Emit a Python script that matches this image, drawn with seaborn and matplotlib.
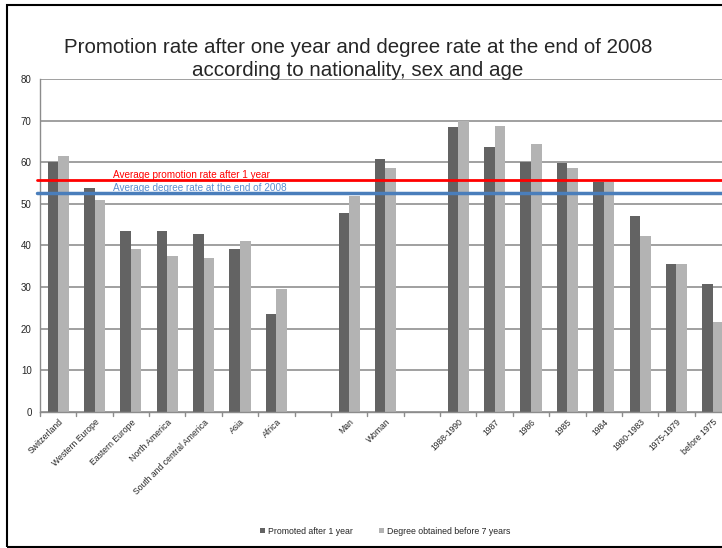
import pandas as pd
import matplotlib
matplotlib.use('Agg')
import matplotlib.pyplot as plt
import seaborn as sns
from matplotlib.patches import Rectangle

# ---------- data ----------
groups = ['Switzerland', 'Western Europe', 'Eastern Europe', 'North America',
          'South and central America', 'Asia', 'Africa', ' ',
          'Man', 'Woman', '  ',
          '1988-1990', '1987', '1986', '1985', '1984',
          '1980-1983', '1975-1979', 'before 1975']
filled = [g for g in groups if g.strip()]
promoted = [60.0, 53.8, 43.4, 43.4, 42.7, 39.1, 23.6,
            47.8, 60.9,
            68.4, 63.7, 60.1, 59.7, 55.3, 47.0, 35.5, 30.8]
degree = [61.6, 51.0, 39.1, 37.5, 37.1, 41.0, 29.6,
          51.8, 58.6,
          70.0, 68.8, 64.5, 58.6, 55.3, 42.3, 35.5, 21.6]
series_names = ['Promoted after 1 year', 'Degree obtained before 7 years']
avg_promotion = 55.8
avg_degree = 52.7

df = pd.DataFrame({
    'group': filled * 2,
    'rate': promoted + degree,
    'series': [series_names[0]] * len(filled) + [series_names[1]] * len(filled),
})

sns.set_style('white')
plt.rcParams['font.family'] = ['Liberation Sans', 'DejaVu Sans']

fig = plt.figure(figsize=(7.22, 5.48), dpi=100)
ax = fig.add_axes([40 / 722, 1 - 412 / 548, 691 / 722, 333 / 548])

sns.barplot(data=df, x='group', y='rate', hue='series', order=groups,
            hue_order=series_names, palette=['#636363', '#b3b3b3'],
            width=0.58, gap=0, saturation=1, linewidth=0, ax=ax)

# average lines
ax.axhline(avg_promotion, xmin=-0.005, xmax=1, color='#ff0000', lw=2, clip_on=False, zorder=5)
ax.axhline(avg_degree, xmin=-0.005, xmax=1, color='#4a7ebb', lw=2.5, clip_on=False, zorder=5)
ax.text(0.106, avg_promotion, 'Average promotion rate after 1 year', color='#ff0000',
        fontsize=7.2, va='bottom', transform=ax.get_yaxis_transform())
ax.text(0.106, avg_degree, 'Average degree rate at the end of 2008', color='#5b8fd0',
        fontsize=7.2, va='bottom', transform=ax.get_yaxis_transform())

ax.set_ylim(0, 80)
ax.set_xlim(-0.5, len(groups) - 0.5)
ax.set_yticks(range(0, 81, 10))
ax.yaxis.grid(True, color='#999999', lw=1.3)
ax.set_axisbelow(True)
ax.set_xticks(range(len(groups)))
ax.set_xticklabels(groups, rotation=45, ha='right', rotation_mode='anchor', fontsize=6.2)
ax.tick_params(axis='x', length=0, pad=4)
ax.tick_params(axis='y', labelsize=7, length=4, color='#8c8c8c', pad=2)
ax.set_xlabel('')
ax.set_ylabel('')
for s in ['top', 'right']:
    ax.spines[s].set_visible(False)
for s in ['left', 'bottom']:
    ax.spines[s].set_color('#8c8c8c')
    ax.spines[s].set_linewidth(1)
# category boundary ticks below the axis
for i in range(len(groups) + 1):
    ax.plot([i - 0.5, i - 0.5], [0, -0.9], color='#8c8c8c', lw=1, clip_on=False)

# legend at the bottom
handles, labels = ax.get_legend_handles_labels()
ax.legend_.remove()
fig.legend(handles, labels, loc='center', bbox_to_anchor=(385 / 722, 1 - 531 / 548),
           ncol=2, frameon=False, fontsize=6.3, handlelength=0.6, handleheight=0.6,
           handletextpad=0.3, columnspacing=3)

fig.text(358 / 722, 1 - 59 / 548,
         'Promotion rate after one year and degree rate at the end of 2008\n'
         'according to nationality, sex and age',
         ha='center', va='center', fontsize=14.8, linespacing=1.3)

# chart border (right side runs off the picture)
fig.patches.append(Rectangle((7 / 722, 1 - 547 / 548), 1.0, 542 / 548, fill=False,
                             ec='black', lw=1.5, transform=fig.transFigure, figure=fig))

fig.savefig('out.png', dpi=100)
